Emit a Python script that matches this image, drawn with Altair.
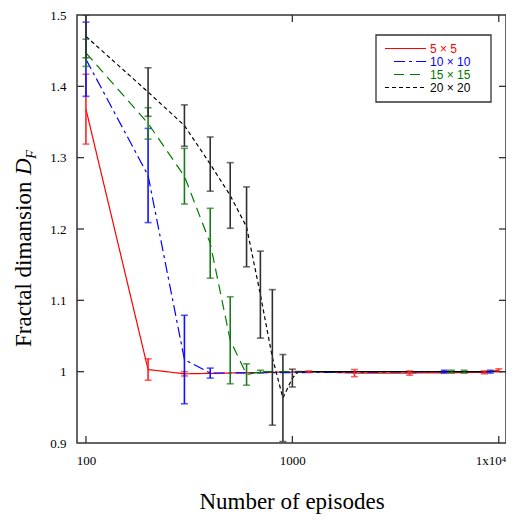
import altair as alt
import pandas as pd

# ---------------- data ----------------
red_x = [100, 200, 300, 1200, 2000, 3700, 8500, 10000]
red_y = [1.368, 1.003, 0.997, 1.0, 0.998, 0.998, 0.999, 1.002]
red_e = [0.049, 0.015, 0.003, 0.001, 0.005, 0.003, 0.002, 0.002]

blue_x = [100, 200, 300, 400, 5450, 9100]
blue_y = [1.438, 1.275, 1.017, 0.998, 1.0, 1.0]
blue_e = [0.052, 0.066, 0.062, 0.007, 0.002, 0.002]

green_x = [100, 200, 300, 400, 500, 600, 700, 5900, 6800]
green_y = [1.447, 1.348, 1.274, 1.18, 1.044, 0.996, 1.0, 1.0, 1.0]
green_e = [0.019, 0.022, 0.039, 0.049, 0.061, 0.015, 0.002, 0.002, 0.002]

black_x = [100, 200, 300, 400, 500, 600, 700, 800, 900, 1000, 1070]
black_y = [1.47, 1.392, 1.345, 1.291, 1.247, 1.203, 1.108, 1.02, 0.963, 0.991, 1.0]
black_e = [0.03, 0.034, 0.029, 0.038, 0.046, 0.056, 0.061, 0.095, 0.061, 0.0125, 0.0]

black_tail_x = [1070, 10840]
black_tail_y = [1.0, 1.0]

series_names = ["5 × 5", "10 × 10", "15 × 15", "20 × 20"]
series_colors = ["#ff0000", "#0000ff", "#007a00", "#000000"]
bar_colors = ["#ff2020", "#1010ff", "#1a7a1a", "#303030"]
series_dash = [[1, 0], [11, 4, 3, 4], [10, 6], [4, 3]]

y_ticks = [0.9, 1.0, 1.1, 1.2, 1.3, 1.4, 1.5]
x_ticks = [100, 1000, 10000]
x_domain = [90.5, 10840]
y_domain = [0.9, 1.5]

W, H = 429, 428
SERIF = "Liberation Serif"

# ---------------- encodings ----------------
x_scale = alt.Scale(type="log", domain=x_domain, nice=False)
y_scale = alt.Scale(domain=y_domain, nice=False, zero=False)

x_axis = alt.Axis(
    values=x_ticks, ticks=False, domain=False, grid=False,
    labelExpr="datum.value >= 10000 ? '1x10⁴' : format(datum.value, 'd')",
    labelAlign={"condition": {"test": "datum.value >= 10000", "value": "right"}, "value": "center"},
    labelOffset={"condition": {"test": "datum.value >= 10000", "value": 7}, "value": 0},
    labelFont=SERIF, labelFontSize=13, labelColor="#000", labelPadding=11,
    labelFlush=False,
    title="Number of episodes", titleFont=SERIF, titleFontSize=23,
    titleFontWeight="normal", titleColor="#000", titleY=65,
    titleBaseline="alphabetic",
)
y_axis = alt.Axis(
    values=y_ticks, ticks=False, domain=False, grid=False,
    labelExpr="datum.value == 1 ? '1' : format(datum.value, '.1f')",
    labelFont=SERIF, labelFontSize=13, labelColor="#000", labelPadding=11,
    title="",
)


def X(field="x"):
    return alt.X(f"{field}:Q", scale=x_scale, axis=x_axis)


def Y(field="y"):
    return alt.Y(f"{field}:Q", scale=y_scale, axis=y_axis)


all_series = [
    (red_x, red_y, red_e),
    (blue_x, blue_y, blue_e),
    (green_x, green_y, green_e),
    (black_x, black_y, black_e),
]

line_layers = []
bar_layers = []
for (xs, ys, es), col, bcol, dash in zip(all_series, series_colors, bar_colors, series_dash):
    df = pd.DataFrame({"x": xs, "y": ys, "e": es})
    df["lo"] = df["y"] - df["e"]
    df["hi"] = df["y"] + df["e"]
    base = alt.Chart(df)
    line_layers.append(
        base.mark_line(color=col, strokeWidth=1.2, strokeDash=dash, clip=True)
        .encode(x=X(), y=Y())
    )
    bar_layers.append(
        base.mark_rule(color=bcol, strokeWidth=1.6, clip=True)
        .encode(x=X(), y=Y("lo"), y2="hi")
    )
    bar_layers.append(
        base.mark_tick(color=bcol, orient="horizontal", size=7, thickness=1.6, clip=True)
        .encode(x=X(), y=Y("lo"))
    )
    bar_layers.append(
        base.mark_tick(color=bcol, orient="horizontal", size=7, thickness=1.6, clip=True)
        .encode(x=X(), y=Y("hi"))
    )

tail_df = pd.DataFrame({"x": black_tail_x, "y": black_tail_y})
tail = alt.Chart(tail_df).mark_line(color="#000", strokeWidth=1.3, clip=True).encode(x=X(), y=Y())

# inward ticks on all four sides
yt_df = pd.DataFrame({"v": y_ticks[1:-1]})
xt_df = pd.DataFrame({"v": x_ticks})
tick_col = "#333333"
left_ticks = alt.Chart(yt_df).mark_rule(color=tick_col, strokeWidth=1.3).encode(
    y=alt.Y("v:Q", scale=y_scale, axis=y_axis), x=alt.value(0), x2=alt.value(7))
right_ticks = alt.Chart(yt_df).mark_rule(color=tick_col, strokeWidth=1.3).encode(
    y=alt.Y("v:Q", scale=y_scale, axis=y_axis), x=alt.value(W - 7), x2=alt.value(W))
bottom_ticks = alt.Chart(xt_df).mark_rule(color=tick_col, strokeWidth=1.3).encode(
    x=alt.X("v:Q", scale=x_scale, axis=x_axis), y=alt.value(H - 7), y2=alt.value(H))
top_ticks = alt.Chart(xt_df).mark_rule(color=tick_col, strokeWidth=1.3).encode(
    x=alt.X("v:Q", scale=x_scale, axis=x_axis), y=alt.value(0), y2=alt.value(7))

# ---------------- legend (manual) ----------------
one = pd.DataFrame({"a": [0]})
legend_layers = [
    alt.Chart(one).mark_rect(fill="white", stroke="#333", strokeWidth=1.3).encode(
        x=alt.value(299), x2=alt.value(414), y=alt.value(20), y2=alt.value(87))
]
row_y = [33.5, 46.5, 59.5, 72.5]
sample_x0 = [308, 317, 317, 308]
for name, col, dash, ry, sx in zip(series_names, series_colors, series_dash, row_y, sample_x0):
    legend_layers.append(
        alt.Chart(one).mark_rule(color=col, strokeWidth=1.2, strokeDash=dash).encode(
            x=alt.value(sx), x2=alt.value(349), y=alt.value(ry))
    )
    legend_layers.append(
        alt.Chart(one).mark_text(
            text=name, color=col, font="Liberation Sans Narrow, Liberation Sans",
            fontSize=12, align="left", baseline="middle").encode(
            x=alt.value(353), y=alt.value(ry + 0.5))
    )

# ---------------- y title (manual, rotated) ----------------
ty0 = 332
tx = -46
title_layers = [
    alt.Chart(one).mark_text(text="Fractal dimansion", font=SERIF, fontSize=23, angle=270,
                             align="left", baseline="alphabetic", color="#000").encode(
        x=alt.value(tx), y=alt.value(ty0)),
    alt.Chart(one).mark_text(text="D", font=SERIF, fontSize=23, fontStyle="italic", angle=270,
                             align="left", baseline="alphabetic", color="#000").encode(
        x=alt.value(tx), y=alt.value(ty0 - 172)),
    alt.Chart(one).mark_text(text="F", font=SERIF, fontSize=15, fontStyle="italic", angle=270,
                             align="left", baseline="alphabetic", color="#000").encode(
        x=alt.value(tx + 5), y=alt.value(ty0 - 188)),
]

chart = alt.layer(
    *line_layers, tail, *bar_layers,
    left_ticks, right_ticks, bottom_ticks, top_ticks,
    *legend_layers, *title_layers,
).properties(
    width=W, height=H,
    autosize=alt.AutoSizeParams(type="none"),
    padding={"left": 69, "top": 7, "right": 0, "bottom": 71},
    background="white",
).configure_view(
    stroke="#333333", strokeWidth=1.5
)

chart.save("out.html", embed_options={"renderer": "svg", "actions": False})
